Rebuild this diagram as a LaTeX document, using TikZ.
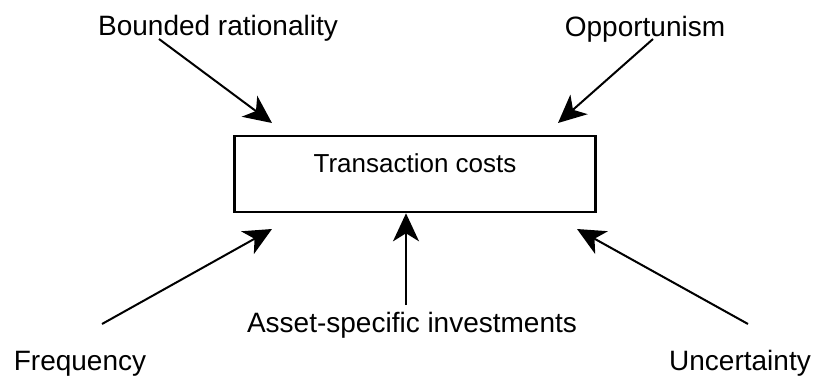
\documentclass[tikz,border=0pt]{standalone}
\usepackage{fontspec}
\setmainfont{Liberation Sans}
\usetikzlibrary{arrows.meta}

\begin{document}
\begin{tikzpicture}[x=0.5pt, y=-0.5pt, line width=1pt,
	lbl/.style={anchor=base, inner sep=0pt, font=\fontsize{14pt}{16pt}\selectfont},
	arr/.style={->, >={Stealth[length=14pt, width=13pt, inset=4pt]}}]
				\useasboundingbox (0,0) rectangle (814,376);
				\node[draw, line width=1.3pt, inner sep=0pt, minimum width=180.5pt, text height=18pt, text depth=20pt, font=\fontsize{13pt}{15pt}\selectfont] (TC)at(415, 174) {Transaction costs};
				\node[lbl] (BR)at(218, 35) {Bounded rationality};
				\node[lbl] (OP)at(645, 36) {Opportunism};
				\node[lbl] (AS)at(412, 332) {Asset-specific investments};
				\node[lbl] (FR)at(80, 370) {Frequency};
				\node[lbl] (UN)at(740, 370) {Uncertainty};
				\coordinate (br)at(159, 39);
				\coordinate (op)at(653, 39);
				\coordinate (as)at(406, 305);
				\coordinate (fr)at(102, 324);
				\coordinate (un)at(748, 324);
				\coordinate (tBR)at(272, 123);
				\coordinate (tOP)at(558, 123);
				\coordinate (tFR)at(272, 229);
				\coordinate (tUN)at(577, 229);
				\draw[arr] (br) -- (tBR);
				\draw[arr] (op) -- (tOP);
				\draw[arr] (as) -- (as |- TC.south);
				\draw[arr] (fr) -- (tFR);
				\draw[arr] (un) -- (tUN);
			\end{tikzpicture}
\end{document}
